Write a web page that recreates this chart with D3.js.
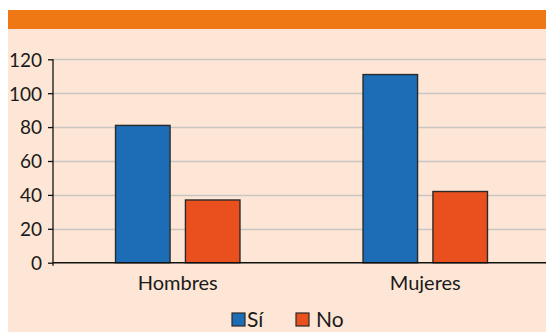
<!DOCTYPE html>
<html>
<head>
<meta charset="utf-8">
<script src="https://cdn.jsdelivr.net/npm/d3@7"></script>
<style>
  html, body { margin: 0; padding: 0; background: #ffffff; }
  svg { display: block; }
  text { font-family: Lato, "Open Sans", sans-serif; fill: #1a1a1a; }
</style>
</head>
<body>
<svg id="chart" width="546" height="332"></svg>
<script>
// Chart data
const categories = ["Hombres", "Mujeres"];
const seriesNames = ["Sí", "No"];
const siValues = [81, 111];
const noValues = [37, 42];
const yTicks = [0, 20, 40, 60, 80, 100, 120];

const colors = { "Sí": "#1c6db5", "No": "#e9501d" };

const svg = d3.select("#chart");
const W = 546, H = 332;

// Panel background and header band
svg.append("rect").attr("x", 8).attr("y", 10).attr("width", W - 8).attr("height", H - 10).attr("fill", "#fde6d5");
svg.append("rect").attr("x", 8).attr("y", 10).attr("width", W - 8).attr("height", 19).attr("fill", "#ef7815");

const plot = { left: 53, right: 549, top: 59.3, bottom: 262.7 };

const y = d3.scaleLinear().domain([0, 120]).range([plot.bottom, plot.top]);
const x0 = d3.scaleBand().domain(categories).range([plot.left + 1, plot.right]).paddingInner(0).paddingOuter(0);
const x1 = d3.scaleBand().domain(seriesNames).range([0, x0.bandwidth()]).paddingInner(0.22).paddingOuter(0.88);

// Horizontal gridlines
svg.append("g").selectAll("line").data(yTicks.filter(d => d > 0)).join("line")
  .attr("x1", plot.left).attr("x2", W)
  .attr("y1", d => Math.round(y(d)) + 0.5).attr("y2", d => Math.round(y(d)) + 0.5)
  .attr("stroke", "#c9c5c2").attr("stroke-width", 1.6);

// Bars
const rows = categories.map((c, i) => ({ cat: c, vals: [
  { s: "Sí", v: siValues[i] }, { s: "No", v: noValues[i] } ] }));

const groups = svg.append("g").selectAll("g").data(rows).join("g")
  .attr("transform", d => `translate(${x0(d.cat)},0)`);
groups.selectAll("rect").data(d => d.vals).join("rect")
  .attr("x", d => x1(d.s))
  .attr("y", d => y(d.v))
  .attr("width", x1.bandwidth())
  .attr("height", d => y(0) - y(d.v))
  .attr("fill", d => colors[d.s])
  .attr("stroke", "#2a2a2a").attr("stroke-width", 1.4);

// Y axis
const yAxis = svg.append("g").attr("transform", `translate(${plot.left},0)`)
  .call(d3.axisLeft(y).tickValues(yTicks).tickSize(5).tickPadding(6).tickSizeOuter(0));
yAxis.select(".domain").attr("d", `M0,${plot.top}V${plot.bottom + 3}`).attr("stroke", "#111").attr("stroke-width", 1.3);
yAxis.selectAll(".tick line").attr("stroke", "#111").attr("stroke-width", 1.3);
yAxis.selectAll(".tick text").style("font-size", "19px").attr("fill", "#1a1a1a").attr("dy", "0.36em");

// X axis baseline
svg.append("line").attr("x1", plot.left).attr("x2", W)
  .attr("y1", plot.bottom).attr("y2", plot.bottom)
  .attr("stroke", "#111").attr("stroke-width", 1.6);

// Category labels
svg.append("g").selectAll("text").data(categories).join("text")
  .attr("x", d => x0(d) + x0.bandwidth() / 2)
  .attr("y", 290)
  .attr("text-anchor", "middle")
  .style("font-size", "20px")
  .text(d => d);

// Legend
const legendItems = [{ s: "Sí", x: 232 }, { s: "No", x: 296 }];
const lg = svg.append("g").selectAll("g").data(legendItems).join("g")
  .attr("transform", d => `translate(${d.x},313)`);
lg.append("rect").attr("width", 13).attr("height", 13)
  .attr("fill", d => colors[d.s]).attr("stroke", "#2a2a2a").attr("stroke-width", 1.2);
lg.append("text").attr("x", d => d.s === "Sí" ? 15 : 20).attr("y", 13.5)
  .style("font-size", "21px").text(d => d.s);
</script>
</body>
</html>
